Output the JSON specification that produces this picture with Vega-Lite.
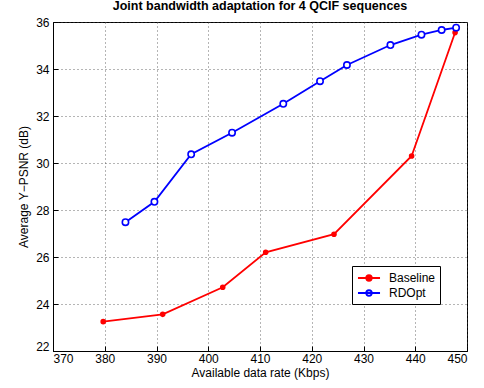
{
  "$schema": "https://vega.github.io/schema/vega-lite/v6.json",
  "width": 414,
  "height": 329,
  "autosize": {"type": "none"},
  "padding": {"left": 53, "top": 22, "right": 17, "bottom": 37},
  "background": "white",
  "title": {"text": "Joint bandwidth adaptation for 4 QCIF sequences", "font": "Liberation Sans", "fontSize": 12.5, "fontWeight": "bold", "color": "black", "offset": 4, "anchor": "middle"},
  "config": {
    "view": {"stroke": "black", "strokeWidth": 1},
    "axis": {"labelFont": "Liberation Sans", "titleFont": "Liberation Sans", "labelFontSize": 12, "titleFontSize": 12, "titleFontWeight": "normal", "labelColor": "black", "titleColor": "black", "domainColor": "black", "tickColor": "black", "gridColor": "#444", "gridDash": [1, 3], "gridWidth": 0.8, "tickSize": -5},
    "legend": {"orient": "none", "legendX": 299, "legendY": 244, "strokeColor": "black", "fillColor": "white", "padding": 4, "labelFont": "Liberation Sans", "labelFontSize": 12, "labelColor": "black", "symbolType": "M-1.6,0L1.6,0M-0.4,0A0.4,0.4 0 1,0 0.4,0A0.4,0.4 0 1,0 -0.4,0", "symbolSize": 190, "symbolStrokeWidth": 1.8, "symbolOffset": 5, "rowPadding": 0, "labelOffset": 12}
  },
  "data": {"values": [
    {"rate": 379.7, "psnr": 23.25, "series": "Baseline"},
    {"rate": 391.2, "psnr": 23.56, "series": "Baseline"},
    {"rate": 402.8, "psnr": 24.71, "series": "Baseline"},
    {"rate": 411.1, "psnr": 26.2, "series": "Baseline"},
    {"rate": 424.3, "psnr": 26.97, "series": "Baseline"},
    {"rate": 439.3, "psnr": 30.3, "series": "Baseline"},
    {"rate": 447.7, "psnr": 35.55, "series": "Baseline"},
    {"rate": 384.0, "psnr": 27.48, "series": "RDOpt"},
    {"rate": 389.6, "psnr": 28.35, "series": "RDOpt"},
    {"rate": 396.7, "psnr": 30.37, "series": "RDOpt"},
    {"rate": 404.6, "psnr": 31.29, "series": "RDOpt"},
    {"rate": 414.5, "psnr": 32.52, "series": "RDOpt"},
    {"rate": 421.6, "psnr": 33.48, "series": "RDOpt"},
    {"rate": 426.8, "psnr": 34.17, "series": "RDOpt"},
    {"rate": 435.2, "psnr": 35.02, "series": "RDOpt"},
    {"rate": 441.2, "psnr": 35.46, "series": "RDOpt"},
    {"rate": 445.1, "psnr": 35.66, "series": "RDOpt"},
    {"rate": 447.9, "psnr": 35.76, "series": "RDOpt"}
  ]},
  "encoding": {
    "x": {"field": "rate", "type": "quantitative", "scale": {"domain": [370, 450], "nice": false, "zero": false}, "axis": {"title": "Available data rate (Kbps)", "values": [370, 380, 390, 400, 410, 420, 430, 440, 450], "labelPadding": 7, "titlePadding": 3}},
    "y": {"field": "psnr", "type": "quantitative", "scale": {"domain": [22, 36], "nice": false, "zero": false}, "axis": {"title": "Average Y−PSNR (dB)", "values": [22, 24, 26, 28, 30, 32, 34, 36], "labelPadding": 9, "titlePadding": 5, "labelOffset": {"condition": {"test": "datum.value == 22", "value": -5}, "value": 0}}},
    "color": {"field": "series", "type": "nominal", "scale": {"domain": ["Baseline", "RDOpt"], "range": ["#ff0000", "#0000ff"]}, "legend": {"title": null}}
  },
  "layer": [
    {"mark": {"type": "line", "strokeWidth": 1.8}, "encoding": {"detail": {"field": "series"}}},
    {"mark": {"type": "point", "filled": false, "strokeWidth": 1.6, "opacity": 1},
      "encoding": {
        "fill": {"field": "series", "type": "nominal", "scale": {"domain": ["Baseline", "RDOpt"], "range": ["#ff0000", "#ffffff"]}, "legend": {"title": null}},
        "size": {"condition": {"test": "datum.series == 'Baseline'", "value": 16}, "value": 40}
      }}
  ]
}
